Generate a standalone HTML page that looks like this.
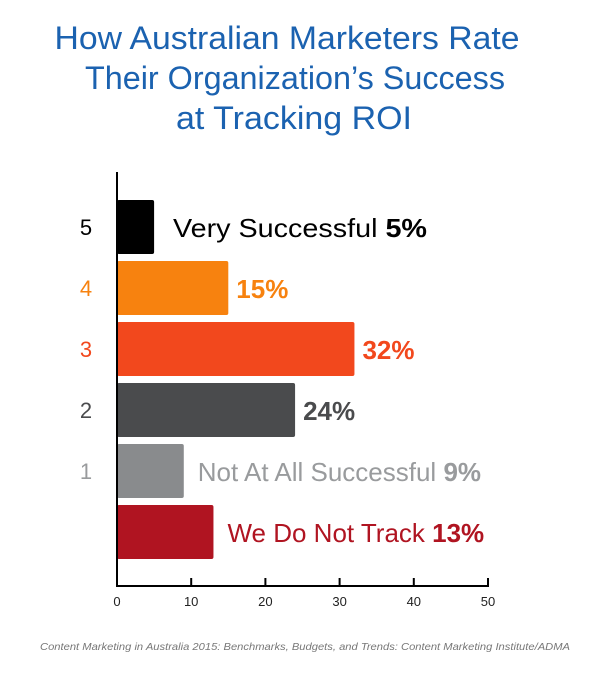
<!DOCTYPE html>
<html><head><meta charset="utf-8"><style>
body{margin:0;background:#fff;width:600px;height:668px;overflow:hidden;font-family:"Liberation Sans",sans-serif}
</style></head><body>
<svg width="600" height="668">
<g fill="#1b62b0" font-size="32" text-anchor="middle" font-family="Liberation Sans, sans-serif">
<text x="287" y="49" textLength="465" lengthAdjust="spacingAndGlyphs">How Australian Marketers Rate</text>
<text x="295" y="89" textLength="420" lengthAdjust="spacingAndGlyphs">Their Organization’s Success</text>
<text x="294" y="129" textLength="236" lengthAdjust="spacingAndGlyphs">at Tracking ROI</text>
</g>
<g id="plot"></g>
<text x="305" y="650" text-anchor="middle" font-size="10.5" font-style="italic" fill="#777" textLength="530" lengthAdjust="spacingAndGlyphs">Content Marketing in Australia 2015: Benchmarks, Budgets, and Trends: Content Marketing Institute/ADMA</text>
</svg>
<script>
const ratings=["5","4","3","2","1",""];
const labels=["Very Successful","","","","Not At All Successful","We Do Not Track"];
const values=[5,15,32,24,9,13];
const ticks=[0,10,20,30,40,50];
const colors=["#000000","#f7820f","#f2481d","#4a4b4d","#898b8d","#b01421"];
const labelColors=["#000000","#f7820f","#f2481d","#4a4b4d","#999b9d","#b01421"];
const ns="http://www.w3.org/2000/svg";
const g=document.getElementById('plot');
const x0=117,x1=488,yAxis=586,top0=200,pitch=61,bh=54;
const xs=v=>x0+(v-ticks[0])/(ticks[ticks.length-1]-ticks[0])*(x1-x0);
function el(t,a){const e=document.createElementNS(ns,t);for(const k in a)e.setAttribute(k,a[k]);g.appendChild(e);return e;}
values.forEach((v,i)=>{
  const y=top0+i*pitch;
  const r=el('rect',{x:x0,y:y,width:xs(v)-x0,height:bh,rx:2,fill:colors[i]});
  
  
  if(ratings[i]){
    const t=el('text',{x:86,y:y+bh/2+8,'text-anchor':'middle','font-size':22,fill:i===0?'#000':labelColors[i]});
    t.textContent=ratings[i];
    
    
  }
  const lx=i===0?173:(xs(v)+(labels[i]?14:8));
  const t=el('text',{x:lx,y:y+bh/2+10,'font-size':26,fill:labelColors[i]});
  if(i===0){t.setAttribute('textLength','254');t.setAttribute('lengthAdjust','spacingAndGlyphs');}
  
  
  if(labels[i]){const s=document.createElementNS(ns,'tspan');s.textContent=labels[i]+(i===0?'  ':' ');t.appendChild(s);}
  const b=document.createElementNS(ns,'tspan');b.setAttribute('font-weight','bold');b.textContent=v+'%';t.appendChild(b);
});
let a=el('line',{x1:x0,y1:172,x2:x0,y2:yAxis+1,stroke:'#000','stroke-width':2});

a=el('line',{x1:x0-1,y1:yAxis,x2:x1+1,y2:yAxis,stroke:'#000','stroke-width':2});

ticks.forEach(tv=>{
  const x=xs(tv);
  const l=el('line',{x1:x,y1:yAxis-8,x2:x,y2:yAxis,stroke:'#000','stroke-width':2});
  
  const t=el('text',{x:x,y:606,'text-anchor':'middle','font-size':13,fill:'#222'});
  t.textContent=tv;
  
});
</script>
</body></html>
